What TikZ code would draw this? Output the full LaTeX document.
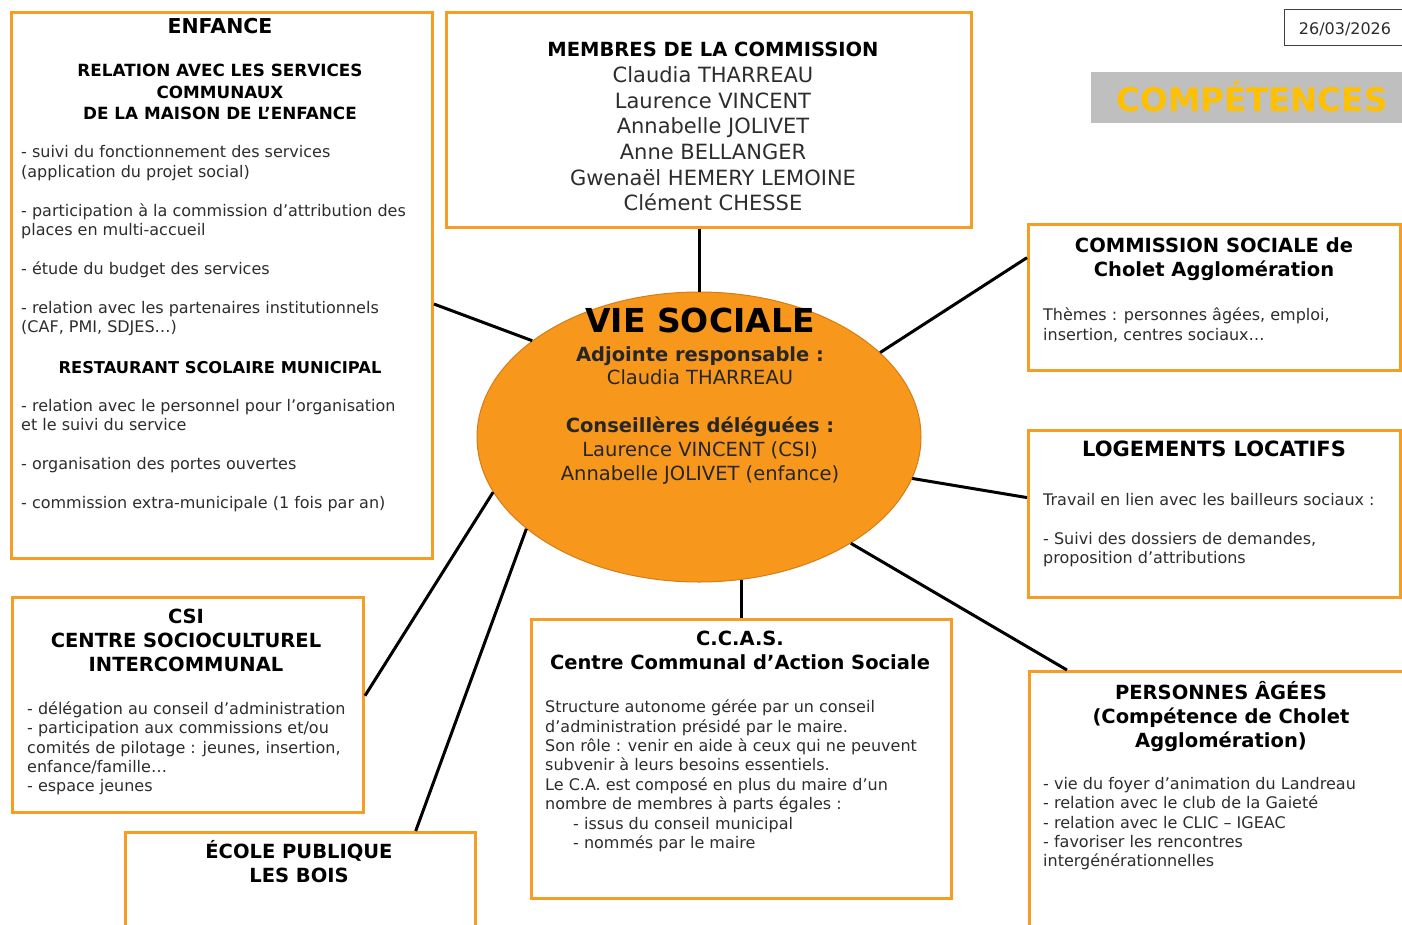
\documentclass[tikz,border=0pt]{standalone}
\usepackage{fontspec}
\setmainfont{DejaVu Sans}
\usetikzlibrary{shapes.geometric}

\definecolor{boxorange}{RGB}{246,158,36}
\definecolor{bubble}{RGB}{247,152,29}
\definecolor{bubbleline}{RGB}{214,124,20}
\definecolor{bannergray}{RGB}{191,191,191}
\definecolor{bannertext}{RGB}{255,192,0}
\definecolor{bodytext}{RGB}{45,45,45}

\begin{document}
\begin{tikzpicture}[x=1pt,y=-1pt,
    frame/.style={draw=boxorange, line width=3pt, fill=white, anchor=north west, inner sep=0pt},
    title/.style={font=\fontsize{19.5}{24}\selectfont\bfseries, align=center, anchor=base, inner sep=0pt},
    subtitle/.style={font=\fontsize{16.8}{21.3}\selectfont\bfseries, align=center, anchor=base, inner sep=0pt},
    body/.style={font=\fontsize{16}{19.4}\selectfont, text=bodytext, align=left, anchor=base west, inner sep=0pt},
    names/.style={font=\fontsize{21}{25.7}\selectfont, text=bodytext, align=center, anchor=base, inner sep=0pt},
    link/.style={line width=3pt}]

    \useasboundingbox (0,0) rectangle (1402,924);
    \clip (0,0) rectangle (1402,924);

    % boxes
    \node[frame, minimum width=421pt, minimum height=546pt] (enfance) at (10,11) {};
    \node[frame, minimum width=525pt, minimum height=215pt] (membres) at (445,11) {};
    \node[frame, minimum width=372pt, minimum height=146pt] (commission) at (1027,223) {};
    \node[frame, minimum width=372pt, minimum height=167pt] (logements) at (1027,429) {};
    \node[frame, minimum width=351pt, minimum height=215pt] (csi) at (11,596) {};
    \node[frame, minimum width=350pt, minimum height=130pt] (ecole) at (124,831) {};
    \node[frame, minimum width=420pt, minimum height=279pt] (ccas) at (530,618) {};
    \node[frame, minimum width=412pt, minimum height=290pt] (personnes) at (1028,670) {};
    \node[ellipse, fill=bubble, draw=bubbleline, line width=1pt, minimum width=444pt, minimum height=290pt, inner sep=0pt] (vie) at (699,437) {};

    % date and banner
    \node[draw=black!75, line width=1.2pt, anchor=north west, minimum width=140pt, minimum height=36pt, inner sep=0pt] (date) at (1284,9) {};
    \node[font=\fontsize{16}{19}\selectfont, text=bodytext, anchor=base, inner sep=0pt] (datetext) at (1345,34) {26/03/2026};
    \node[fill=bannergray, anchor=north west, minimum width=320pt, minimum height=51pt, inner sep=0pt] (banner) at (1091,72) {};
    \node[font=\fontsize{32.5}{36}\selectfont\bfseries, text=bannertext, anchor=base, inner sep=0pt] (competences) at (1252,111.7) {COMPÉTENCES};

    \draw[link] (vie.north) -- (vie.north |- membres.south);
    \draw[link] (vie.150.6) -- (enfance.-5.7);
    \draw[link] (vie.25.1) -- (commission.168.5);
    \draw[link] (vie.-11.4) -- (logements.175.5);
    \draw[link] (vie.-35.4) -- (personnes.139.9);
    \draw[link] (ccas.north) -- (ccas.north |- vie.-74.5);
    \draw[link] (vie.195.7) -- (csi.3.9);
    \draw[link] (vie.208.4) -- (ecole.30.8);

    % enfance (multi-line nodes sit on their last baseline)
    \node[title, font=\fontsize{20.5}{24}\selectfont\bfseries] (enfancetitle) at (220,33.3) {ENFANCE};
    \node[subtitle] (relation) at (220,119.3) {RELATION AVEC LES SERVICES\\COMMUNAUX\\DE LA MAISON DE L’ENFANCE};
    \node[body] (enfanceitems) at (21,332.5) {- suivi du fonctionnement des services\\(application du projet social)\\[19.4pt]- participation à la commission d’attribution des\\places en multi-accueil\\[19.4pt]- étude du budget des services\\[19.4pt]- relation avec les partenaires institutionnels\\(CAF, PMI, SDJES…)};
    \node[subtitle, font=\fontsize{16.3}{20}\selectfont\bfseries] (restaurant) at (220,373.3) {RESTAURANT SCOLAIRE MUNICIPAL};
    \node[body] (restaurantitems) at (21,508) {- relation avec le personnel pour l’organisation\\et le suivi du service\\[19.4pt]- organisation des portes ouvertes\\[19.4pt]- commission extra-municipale (1 fois par an)};

    % membres
    \node[title] (membrestitle) at (713,56.7) {MEMBRES DE LA COMMISSION};
    \node[names] (noms) at (713,210.8) {Claudia THARREAU\\Laurence VINCENT\\Annabelle JOLIVET\\Anne BELLANGER\\Gwenaël HEMERY LEMOINE\\Clément CHESSE};

    % vie sociale
    \node[font=\fontsize{33}{36}\selectfont\bfseries, anchor=base, inner sep=0pt] (vietitle) at (700,332.3) {VIE SOCIALE};
    \node[names, font=\fontsize{19.5}{23.8}\selectfont, text=black!85] (elues) at (700,480) {{\bfseries Adjointe responsable :}\\Claudia THARREAU\\[23.8pt]{\bfseries Conseillères déléguées :}\\Laurence VINCENT (CSI)\\Annabelle JOLIVET (enfance)};

    % commission sociale, logements
    \node[title] (commissiontitle) at (1214,276) {COMMISSION SOCIALE de\\Cholet Agglomération};
    \node[body] (themes) at (1043,340.1) {Thèmes : personnes âgées, emploi,\\insertion, centres sociaux…};
    \node[title, font=\fontsize{21}{24}\selectfont\bfseries] (logementstitle) at (1214,456.7) {LOGEMENTS LOCATIFS};
    \node[body] (bailleurs) at (1043,563.8) {Travail en lien avec les bailleurs sociaux :\\[19.4pt]- Suivi des dossiers de demandes,\\proposition d’attributions};

    % csi, ecole
    \node[title] (csititle) at (186,671.3) {CSI\\CENTRE SOCIOCULTUREL\\INTERCOMMUNAL};
    \node[body] (csiitems) at (27,791.9) {- délégation au conseil d’administration\\- participation aux commissions et/ou\\comités de pilotage : jeunes, insertion,\\enfance/famille…\\- espace jeunes};
    \node[title] (ecoletitle) at (299,882.3) {ÉCOLE PUBLIQUE\\LES BOIS};

    % ccas
    \node[title] (ccastitle) at (740,669) {C.C.A.S.\\Centre Communal d’Action Sociale};
    \node[body] (ccastext) at (545,848.5) {Structure autonome gérée par un conseil\\d’administration présidé par le maire.\\Son rôle : venir en aide à ceux qui ne peuvent\\subvenir à leurs besoins essentiels.\\Le C.A. est composé en plus du maire d’un\\nombre de membres à parts égales :\\\hspace*{28pt}- issus du conseil municipal\\\hspace*{28pt}- nommés par le maire};

    % personnes agees
    \node[title] (personnestitle) at (1221,747.3) {PERSONNES ÂGÉES\\(Compétence de Cholet\\Agglomération)};
    \node[body] (personnesitems) at (1043,866.9) {- vie du foyer d’animation du Landreau\\- relation avec le club de la Gaieté\\- relation avec le CLIC – IGEAC\\- favoriser les rencontres\\intergénérationnelles};
\end{tikzpicture}
\end{document}
